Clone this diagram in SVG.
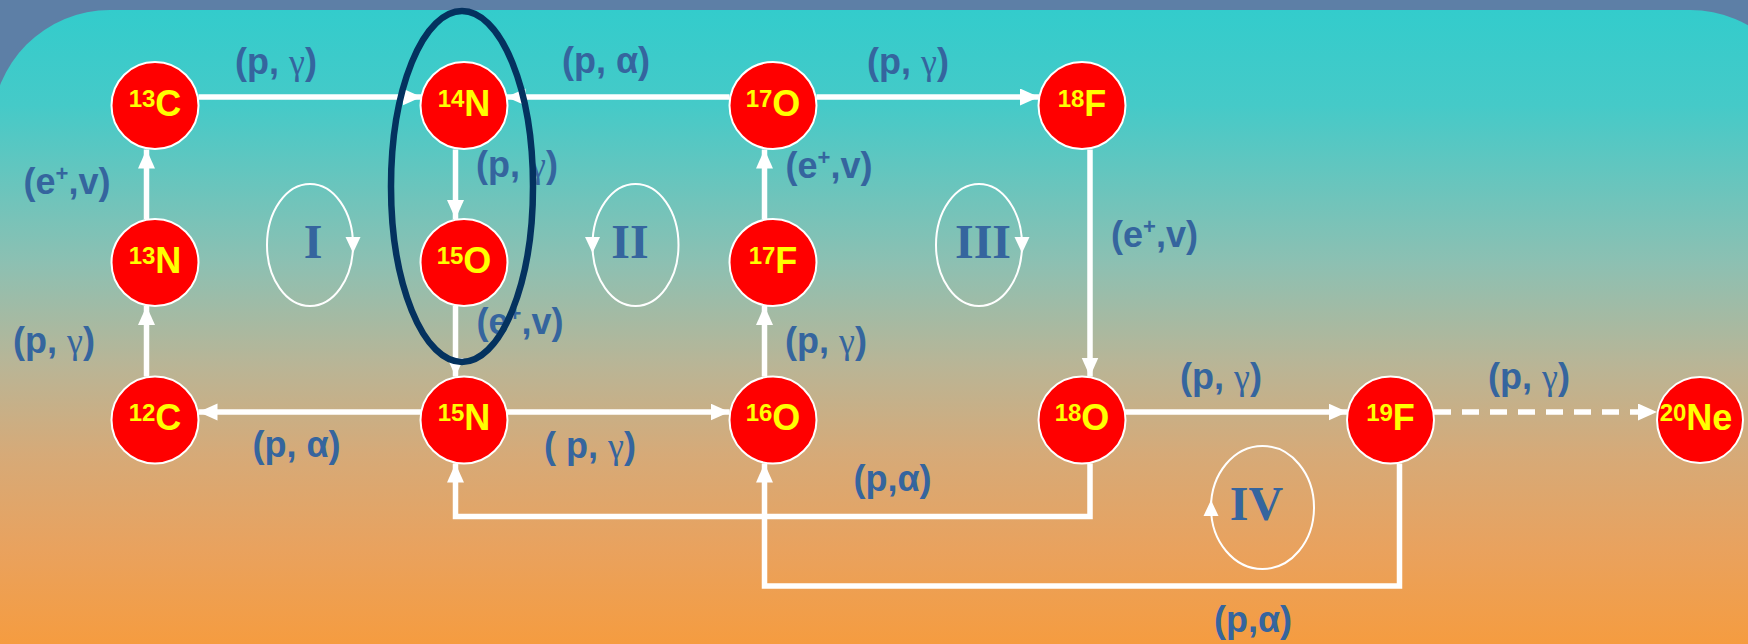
<svg xmlns="http://www.w3.org/2000/svg" width="1748" height="644" viewBox="0 0 1748 644">
<defs>
<linearGradient id="panelGrad" gradientUnits="userSpaceOnUse" x1="0" y1="10" x2="0" y2="644">
<stop offset="0" stop-color="#33cccc"/>
<stop offset="0.15" stop-color="#45cac8"/>
<stop offset="0.4" stop-color="#8dc0b2"/>
<stop offset="0.56" stop-color="#b9b596"/>
<stop offset="0.7" stop-color="#d6aa78"/>
<stop offset="0.85" stop-color="#e9a25e"/>
<stop offset="1" stop-color="#f59c40"/>
</linearGradient>
<marker id="arr" markerUnits="userSpaceOnUse" markerWidth="20" markerHeight="18" refX="19" refY="8.5" orient="auto">
<path d="M0,0 L19,8.5 L0,17 Z" fill="#ffffff"/>
</marker>
<style>
.edge{fill:none;stroke:#ffffff;stroke-width:5.5;}
.dash{stroke-dasharray:17 11;}
.node circle{fill:#ff0000;stroke:#ffffff;stroke-width:2;}
.node text{font-family:"Liberation Sans",Arial,sans-serif;font-weight:bold;fill:#ffff00;font-size:36px;text-anchor:middle;}
.sup{font-size:24px;}
.lbl{font-family:"Liberation Sans",Arial,sans-serif;font-weight:bold;fill:#35659e;font-size:36px;text-anchor:middle;}
.gr{font-family:"Liberation Serif","Times New Roman",serif;font-weight:normal;}
.esup{font-size:22px;}
.loop{fill:none;stroke:#ffffff;stroke-width:2;}
.loopt{font-family:"Liberation Serif","Times New Roman",serif;font-weight:bold;fill:#35659e;font-size:48px;text-anchor:middle;}
.tri{fill:#ffffff;}
</style>
</defs>

<g id="background">
<rect x="0" y="0" width="1748" height="644" fill="#5d7fa6"/>
<path d="M-8,644 V128 A118,118 0 0 1 110,10 H1690 A118,118 0 0 1 1808,128 V644 Z" fill="url(#panelGrad)"/>
</g>

<g id="connectors">
<path class="edge" d="M198.5,97 H421.5" marker-end="url(#arr)"/>
<path class="edge" d="M729.5,97 H506.5" marker-end="url(#arr)"/>
<path class="edge" d="M816.5,97 H1039" marker-end="url(#arr)"/>
<path class="edge" d="M455.5,149.5 V219" marker-end="url(#arr)"/>
<path class="edge" d="M146.5,219 V149.5" marker-end="url(#arr)"/>
<path class="edge" d="M146.5,376.5 V306" marker-end="url(#arr)"/>
<path class="edge" d="M455.5,306 V376.5" marker-end="url(#arr)"/>
<path class="edge" d="M421,412 H198.5" marker-end="url(#arr)"/>
<path class="edge" d="M507,412 H729.5" marker-end="url(#arr)"/>
<path class="edge" d="M764.5,376.5 V306" marker-end="url(#arr)"/>
<path class="edge" d="M764.5,219 V149.5" marker-end="url(#arr)"/>
<path class="edge" d="M1090,149.5 V376.5" marker-end="url(#arr)"/>
<path class="edge" d="M1125,412 H1347.5" marker-end="url(#arr)"/>
<path class="edge dash" d="M1434,412 H1657" marker-end="url(#arr)"/>
<path class="edge" d="M1090,463.5 V516.5 H455.5 V463.5" marker-end="url(#arr)"/>
<path class="edge" d="M1399.5,463.5 V586 H764.5 V463.5" marker-end="url(#arr)"/>
</g>

<g id="n13C" class="node"><circle cx="155" cy="105.5" r="43.5"/><text x="155" y="116"><tspan class="sup" dy="-9">13</tspan><tspan dy="9">C</tspan></text></g>
<g id="n14N" class="node"><circle cx="464" cy="105.5" r="43.5"/><text x="464" y="116"><tspan class="sup" dy="-9">14</tspan><tspan dy="9">N</tspan></text></g>
<g id="n17O" class="node"><circle cx="773" cy="105.5" r="43.5"/><text x="773" y="116"><tspan class="sup" dy="-9">17</tspan><tspan dy="9">O</tspan></text></g>
<g id="n18F" class="node"><circle cx="1082" cy="105.5" r="43.5"/><text x="1082" y="116"><tspan class="sup" dy="-9">18</tspan><tspan dy="9">F</tspan></text></g>
<g id="n13N" class="node"><circle cx="155" cy="262.5" r="43.5"/><text x="155" y="273"><tspan class="sup" dy="-9">13</tspan><tspan dy="9">N</tspan></text></g>
<g id="n15O" class="node"><circle cx="464" cy="262.5" r="43.5"/><text x="464" y="273"><tspan class="sup" dy="-9">15</tspan><tspan dy="9">O</tspan></text></g>
<g id="n17F" class="node"><circle cx="773" cy="262.5" r="43.5"/><text x="773" y="273"><tspan class="sup" dy="-9">17</tspan><tspan dy="9">F</tspan></text></g>
<g id="n12C" class="node"><circle cx="155" cy="420" r="43.5"/><text x="155" y="430"><tspan class="sup" dy="-9">12</tspan><tspan dy="9">C</tspan></text></g>
<g id="n15N" class="node"><circle cx="464" cy="420" r="43.5"/><text x="464" y="430"><tspan class="sup" dy="-9">15</tspan><tspan dy="9">N</tspan></text></g>
<g id="n16O" class="node"><circle cx="773" cy="420" r="43.5"/><text x="773" y="430"><tspan class="sup" dy="-9">16</tspan><tspan dy="9">O</tspan></text></g>
<g id="n18O" class="node"><circle cx="1082" cy="420" r="43.5"/><text x="1082" y="430"><tspan class="sup" dy="-9">18</tspan><tspan dy="9">O</tspan></text></g>
<g id="n19F" class="node"><circle cx="1390.5" cy="420" r="43.5"/><text x="1390.5" y="430"><tspan class="sup" dy="-9">19</tspan><tspan dy="9">F</tspan></text></g>
<g id="n20Ne" class="node"><circle cx="1700" cy="420" r="43"/><text x="1696" y="430"><tspan class="sup" dy="-9">20</tspan><tspan dy="9">Ne</tspan></text></g>

<g id="labels">
<text class="lbl" x="276" y="74">(p, <tspan class="gr">γ</tspan>)</text>
<text class="lbl" x="606" y="73">(p, α)</text>
<text class="lbl" x="908" y="74">(p, <tspan class="gr">γ</tspan>)</text>
<text class="lbl" x="67" y="194">(e<tspan class="esup" dy="-13">+</tspan><tspan dy="13">,v)</tspan></text>
<text class="lbl" x="517" y="177">(p, <tspan class="gr">γ</tspan>)</text>
<text class="lbl" x="829" y="178">(e<tspan class="esup" dy="-13">+</tspan><tspan dy="13">,v)</tspan></text>
<text class="lbl" x="1154.5" y="247">(e<tspan class="esup" dy="-13">+</tspan><tspan dy="13">,v)</tspan></text>
<text class="lbl" x="520" y="334">(e<tspan class="esup" dy="-13">+</tspan><tspan dy="13">,v)</tspan></text>
<text class="lbl" x="54" y="353">(p, <tspan class="gr">γ</tspan>)</text>
<text class="lbl" x="826" y="353">(p, <tspan class="gr">γ</tspan>)</text>
<text class="lbl" x="296.5" y="457">(p, α)</text>
<text class="lbl" x="590" y="458">( p, <tspan class="gr">γ</tspan>)</text>
<text class="lbl" x="892.5" y="491">(p,α)</text>
<text class="lbl" x="1221" y="389">(p, <tspan class="gr">γ</tspan>)</text>
<text class="lbl" x="1529" y="389">(p, <tspan class="gr">γ</tspan>)</text>
<text class="lbl" x="1253" y="632">(p,α)</text>
</g>

<g id="loopI">
<ellipse class="loop" cx="310" cy="245" rx="43" ry="61"/>
<polygon class="tri" points="345.5,237 360.5,237 353,253"/>
<text class="loopt" x="313" y="258">I</text>
</g>
<g id="loopII">
<ellipse class="loop" cx="635.5" cy="245" rx="43" ry="61"/>
<polygon class="tri" points="585,237 600,237 592.5,253"/>
<text class="loopt" x="630" y="258">II</text>
</g>
<g id="loopIII">
<ellipse class="loop" cx="979" cy="245" rx="43" ry="61"/>
<polygon class="tri" points="1014.5,237 1029.5,237 1022,253"/>
<text class="loopt" x="983" y="258">III</text>
</g>
<g id="loopIV">
<ellipse class="loop" cx="1262.5" cy="507.5" rx="51.5" ry="61.5"/>
<polygon class="tri" points="1203.5,516 1218.5,516 1211,500"/>
<text class="loopt" x="1256.5" y="520">IV</text>
</g>

<g id="highlight">
<ellipse cx="462" cy="186.5" rx="71" ry="175.5" fill="none" stroke="#04325f" stroke-width="6.5"/>
</g>
</svg>
